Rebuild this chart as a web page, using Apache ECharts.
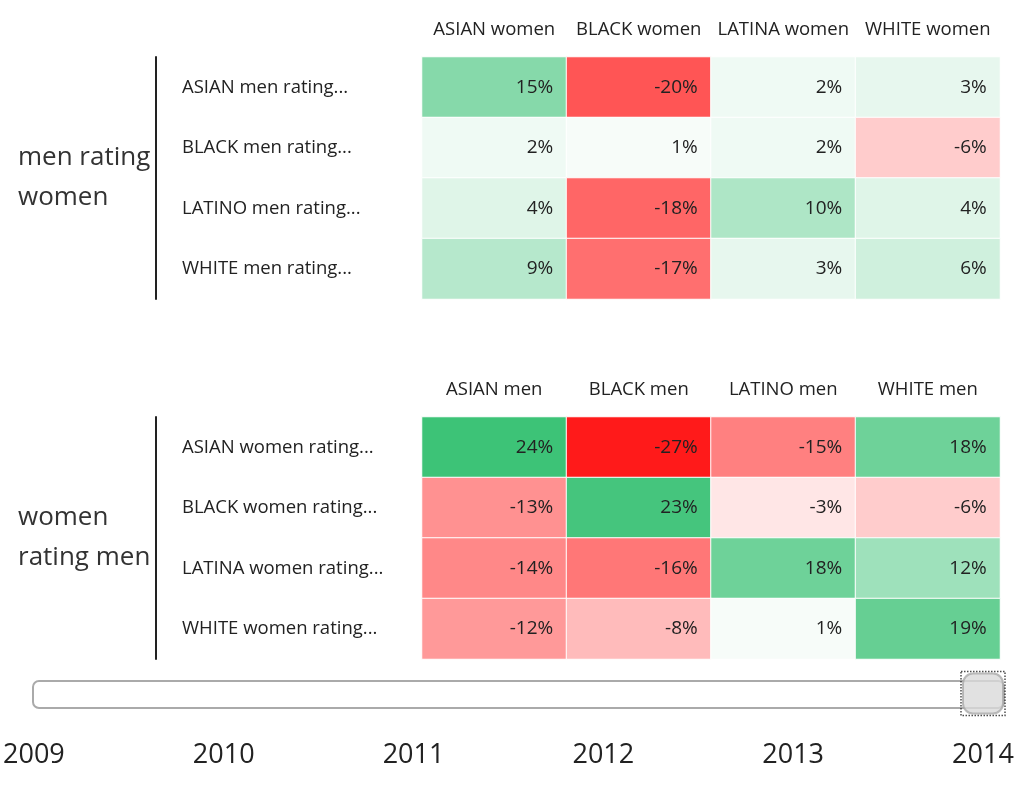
<!DOCTYPE html>
<html>
<head>
<meta charset="utf-8">
<script src="https://cdn.jsdelivr.net/npm/echarts@6/dist/echarts.min.js"></script>
<style>
html,body{margin:0;padding:0;background:#fff;}
#chart{width:1019px;height:793px;}
</style>
</head>
<body>
<div id="chart"></div>
<script>
const topRows = ['ASIAN men rating...', 'BLACK men rating...', 'LATINO men rating...', 'WHITE men rating...'];
const topCols = ['ASIAN women', 'BLACK women', 'LATINA women', 'WHITE women'];
const topValues = [
  [15, -20, 2, 3],
  [2, 1, 2, -6],
  [4, -18, 10, 4],
  [9, -17, 3, 6]
];
const bottomRows = ['ASIAN women rating...', 'BLACK women rating...', 'LATINA women rating...', 'WHITE women rating...'];
const bottomCols = ['ASIAN men', 'BLACK men', 'LATINO men', 'WHITE men'];
const bottomValues = [
  [24, -27, -15, 18],
  [-13, 23, -3, -6],
  [-14, -16, 18, 12],
  [-12, -8, 1, 19]
];
const groupNames = ['men rating\nwomen', 'women\nrating men'];
const years = ['2009', '2010', '2011', '2012', '2013', '2014'];
const currentYear = '2014';

function toCells(values) {
  const out = [];
  values.forEach((row, r) => row.forEach((v, c) => out.push([c, r, v])));
  return out;
}

const FONT = 'Open Sans';

function yAxisFor(idx, rows, name) {
  return {
    gridIndex: idx, type: 'category', data: rows, inverse: true,
    offset: 266,
    axisLine: { show: true, lineStyle: { color: '#222', width: 2 } },
    axisTick: { show: false },
    splitLine: { show: false },
    axisLabel: { align: 'left', margin: -26, fontSize: 18.5, color: '#222', fontFamily: FONT, interval: 0 },
    name: name, nameLocation: 'middle', nameRotate: 0, nameGap: 138,
    nameTextStyle: { fontSize: 26, color: '#333', align: 'left', lineHeight: 40, fontFamily: FONT, padding: [3, 0, 0, 0] }
  };
}
function xAxisFor(idx, cols) {
  return {
    gridIndex: idx, type: 'category', data: cols, position: 'top',
    axisLine: { show: false }, axisTick: { show: false }, splitLine: { show: false },
    axisLabel: { fontSize: 18.5, color: '#222', margin: 18, fontFamily: FONT, interval: 0 }
  };
}
const cellLabel = {
  show: true, position: 'insideRight', distance: 14,
  fontSize: 19, color: '#222', fontFamily: FONT,
  formatter: p => p.value[2] + '%'
};

const chart = echarts.init(document.getElementById('chart'));
chart.setOption({
  animation: false,
  backgroundColor: '#fff',
  textStyle: { fontFamily: FONT },
  grid: [
    { left: 422, top: 57, width: 578, height: 242 },
    { left: 422, top: 417, width: 578, height: 242 },
    { left: 32, right: 36, top: 680, height: 27 }
  ],
  xAxis: [
    xAxisFor(0, topCols),
    xAxisFor(1, bottomCols),
    {
      gridIndex: 2, type: 'category', data: years, boundaryGap: false,
      axisLine: { show: false }, axisTick: { show: false }, splitLine: { show: false },
      axisLabel: { fontSize: 27, color: '#222', margin: 35, fontFamily: FONT, interval: 0 }
    }
  ],
  yAxis: [
    yAxisFor(0, topRows, groupNames[0]),
    yAxisFor(1, bottomRows, groupNames[1]),
    { gridIndex: 2, type: 'value', min: 0, max: 1, show: false }
  ],
  visualMap: {
    show: false, type: 'continuous', min: -27, max: 27, dimension: 2,
    seriesIndex: [0, 1],
    inRange: { color: ['#ff1a1a', '#ffffff', '#25bb66'] }
  },
  graphic: [{
    type: 'rect', left: 32, top: 680, z: 1,
    shape: { width: 971, height: 27, r: 6 },
    style: { fill: '#fff', stroke: '#aaa', lineWidth: 2 }
  }],
  series: [
    {
      type: 'heatmap', xAxisIndex: 0, yAxisIndex: 0, data: toCells(topValues),
      itemStyle: { borderColor: '#fff', borderWidth: 1 }, label: cellLabel
    },
    {
      type: 'heatmap', xAxisIndex: 1, yAxisIndex: 1, data: toCells(bottomValues),
      itemStyle: { borderColor: '#fff', borderWidth: 1 }, label: cellLabel
    },
    {
      type: 'scatter', xAxisIndex: 2, yAxisIndex: 2, z: 5,
      data: [[currentYear, 0.5]], symbol: 'roundRect', symbolSize: [40, 40],
      itemStyle: { color: '#d9d9d9', borderColor: '#aaa', borderWidth: 2 }
    },
    {
      type: 'scatter', xAxisIndex: 2, yAxisIndex: 2, z: 6, silent: true,
      data: [[currentYear, 0.5]], symbol: 'rect', symbolSize: [44, 44],
      itemStyle: { color: 'rgba(0,0,0,0)', borderColor: '#222', borderWidth: 1.5, borderType: 'dotted' }
    }
  ]
});
</script>
</body>
</html>
